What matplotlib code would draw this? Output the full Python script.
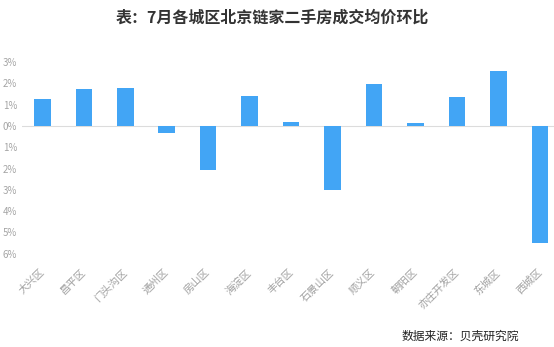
import matplotlib.pyplot as plt
from matplotlib.ticker import FuncFormatter

plt.rcParams['font.family'] = ['Noto Sans CJK SC', 'DejaVu Sans']

# 各城区 环比 (%)
districts = ["大兴区", "昌平区", "门头沟区", "通州区", "房山区", "海淀区", "丰台区",
             "石景山区", "顺义区", "朝阳区", "亦庄开发区", "东城区", "西城区"]
mom_change = [1.27, 1.74, 1.80, -0.31, -2.05, 1.39, 0.17,
              -3.02, 1.96, 0.13, 1.35, 2.60, -5.51]
y_ticks = [3, 2, 1, 0, -1, -2, -3, -4, -5, -6]

fig = plt.figure(figsize=(5.54, 3.47), dpi=100)
ax = fig.add_axes([0.039, 0.2686, 0.973, 0.5524])

x = range(len(districts))
ax.bar(x, mom_change, width=0.4, color="#42A5F5", zorder=3)
ax.axhline(0, color="#dcdcdc", linewidth=0.8, zorder=2)

ax.set_xlim(-0.5, len(districts) - 0.5)
ax.set_ylim(-6, 3)
ax.set_yticks(y_ticks)
# 负值也不带负号显示
ax.yaxis.set_major_formatter(FuncFormatter(lambda v, p: f"{abs(v):.0f}%"))

ax.set_xticks(list(x))
ax.set_xticklabels(districts, rotation=45, ha="right", va="center",
                   rotation_mode="anchor", fontsize=7.5, color="#a0a0a0")
ax.tick_params(axis="x", length=0, pad=12)
ax.tick_params(axis="y", length=0, pad=0, labelsize=7, labelcolor="#a5a5a5")
for lbl in ax.get_yticklabels():
    lbl.set_horizontalalignment("left")
    lbl.set_x(-0.035)

for s in ax.spines.values():
    s.set_visible(False)

fig.text(0.491, 0.95, "表：7月各城区北京链家二手房成交均价环比", ha="center", va="center",
         fontsize=11.5, fontweight="bold", color="#333333")
fig.text(0.937, 0.032, "数据来源：贝壳研究院", ha="right", va="center",
         fontsize=8.5, color="#222222")

fig.savefig("out.png", dpi=100)
